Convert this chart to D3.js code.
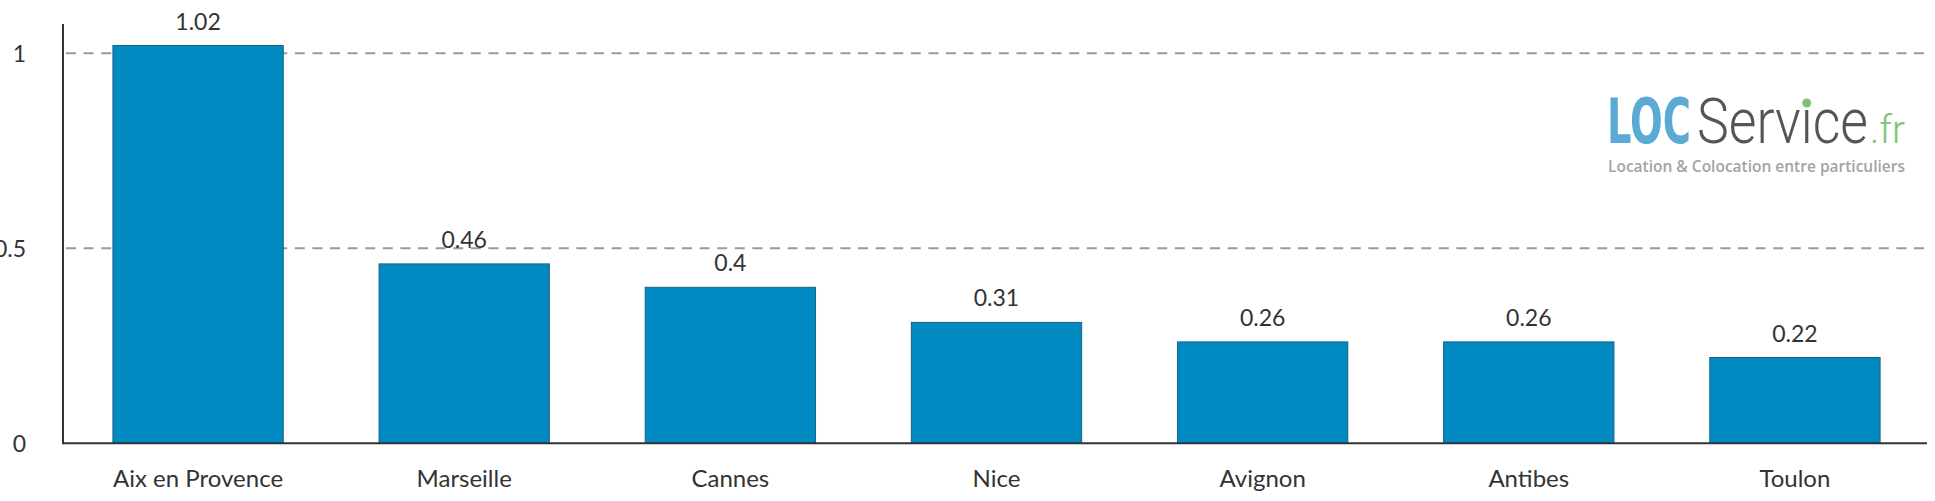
<!DOCTYPE html>
<html><head><meta charset="utf-8">
<script src="https://cdn.jsdelivr.net/npm/d3@7"></script>
<style>
html,body{margin:0;padding:0;background:#fff;overflow:hidden;}
svg{display:block;}
</style></head>
<body>
<svg id="chart" width="1935" height="501"></svg>
<script>
const categories = ["Aix en Provence","Marseille","Cannes","Nice","Avignon","Antibes","Toulon"];
const values = [1.02,0.46,0.4,0.31,0.26,0.26,0.22];
const valueLabels = ["1.02","0.46","0.4","0.31","0.26","0.26","0.22"];
const yTicks = [0,0.5,1];
const yTickLabels = ["0","0.5","1"];

(function () {
const svg = d3.select("#chart");
const W = 1935, H = 501;
const mLeft = 63, mRight = 1927, mTop = 24, mBottom = 443.3;

const x = d3.scaleBand().domain(categories).range([mLeft + 2, mRight + 1]).paddingInner(0.36).paddingOuter(0.18);
const y = d3.scaleLinear().domain([0, 1]).range([mBottom, mBottom - 390]);

svg.append("rect").attr("width", W).attr("height", H).attr("fill", "#fff");

// gridlines
svg.append("g").selectAll("line").data(yTicks.filter(d => d > 0)).join("line")
  .attr("x1", mLeft + 3).attr("x2", mRight)
  .attr("y1", d => y(d)).attr("y2", d => y(d))
  .attr("stroke", "#9a9a9a").attr("stroke-width", 2).attr("stroke-dasharray", "10,7.6");

// bars
svg.append("g").selectAll("rect").data(values).join("rect")
  .attr("x", (d, i) => x(categories[i]))
  .attr("width", x.bandwidth())
  .attr("y", d => y(d))
  .attr("height", d => y(0) - y(d))
  .attr("fill", "#0189c1")
  .attr("stroke", "#1d6184").attr("stroke-width", 1);

// value labels
svg.append("g").selectAll("text").data(values).join("text")
  .attr("x", (d, i) => x(categories[i]) + x.bandwidth() / 2)
  .attr("y", d => y(d) - 16)
  .attr("text-anchor", "middle")
  .attr("font-family", "Lato, sans-serif").attr("font-size", 23).attr("fill", "#333")
  .text((d, i) => valueLabels[i]);

// axes lines
svg.append("line").attr("x1", mLeft).attr("x2", mLeft).attr("y1", mTop).attr("y2", mBottom + 1)
  .attr("stroke", "#333").attr("stroke-width", 2);
svg.append("line").attr("x1", mLeft).attr("x2", mRight).attr("y1", mBottom).attr("y2", mBottom)
  .attr("stroke", "#333").attr("stroke-width", 2);

// y tick labels
svg.append("g").selectAll("text").data(yTicks).join("text")
  .attr("x", 26).attr("y", d => y(d)).attr("dy", "0.36em")
  .attr("text-anchor", "end")
  .attr("font-family", "Lato, sans-serif").attr("font-size", 23).attr("fill", "#333")
  .text((d, i) => yTickLabels[i]);

// x category labels
svg.append("g").selectAll("text").data(categories).join("text")
  .attr("x", d => x(d) + x.bandwidth() / 2)
  .attr("y", 487)
  .attr("text-anchor", "middle")
  .attr("font-family", "Lato, sans-serif").attr("font-size", 24).attr("fill", "#333")
  .text(d => d);

// logo
const logo = svg.append("g");
logo.append("text").attr("x", 1607).attr("y", 143)
  .attr("font-family", "'DejaVu Sans', sans-serif").attr("font-weight", 700).attr("font-size", 63)
  .attr("fill", "#5aaad3").attr("textLength", 84).attr("lengthAdjust", "spacingAndGlyphs").text("LOC");
const serv = logo.append("text").attr("x", 1697).attr("y", 143)
  .attr("font-family", "Roboto, sans-serif").attr("font-weight", 300).attr("font-size", 63)
  .attr("fill", "#555").attr("textLength", 171).attr("lengthAdjust", "spacingAndGlyphs").text("Servıce");
logo.append("text").attr("x", 1870).attr("y", 143)
  .attr("font-family", "Roboto, sans-serif").attr("font-weight", 300).attr("font-size", 38)
  .attr("fill", "#7cc470").attr("textLength", 35).attr("lengthAdjust", "spacingAndGlyphs").text(".fr");
try {
  const ext = serv.node().getExtentOfChar(4);
  logo.append("circle").attr("cx", ext.x + ext.width / 2).attr("cy", 103).attr("r", 4.5).attr("fill", "#7cc470");
} catch (e) {}
logo.append("text").attr("x", 1608).attr("y", 172)
  .attr("font-family", "'Open Sans', sans-serif").attr("font-weight", 600).attr("font-size", 16)
  .attr("fill", "#a3a3a3").attr("textLength", 297).attr("lengthAdjust", "spacingAndGlyphs")
  .text("Location & Colocation entre particuliers");
})();
</script>
</body></html>
